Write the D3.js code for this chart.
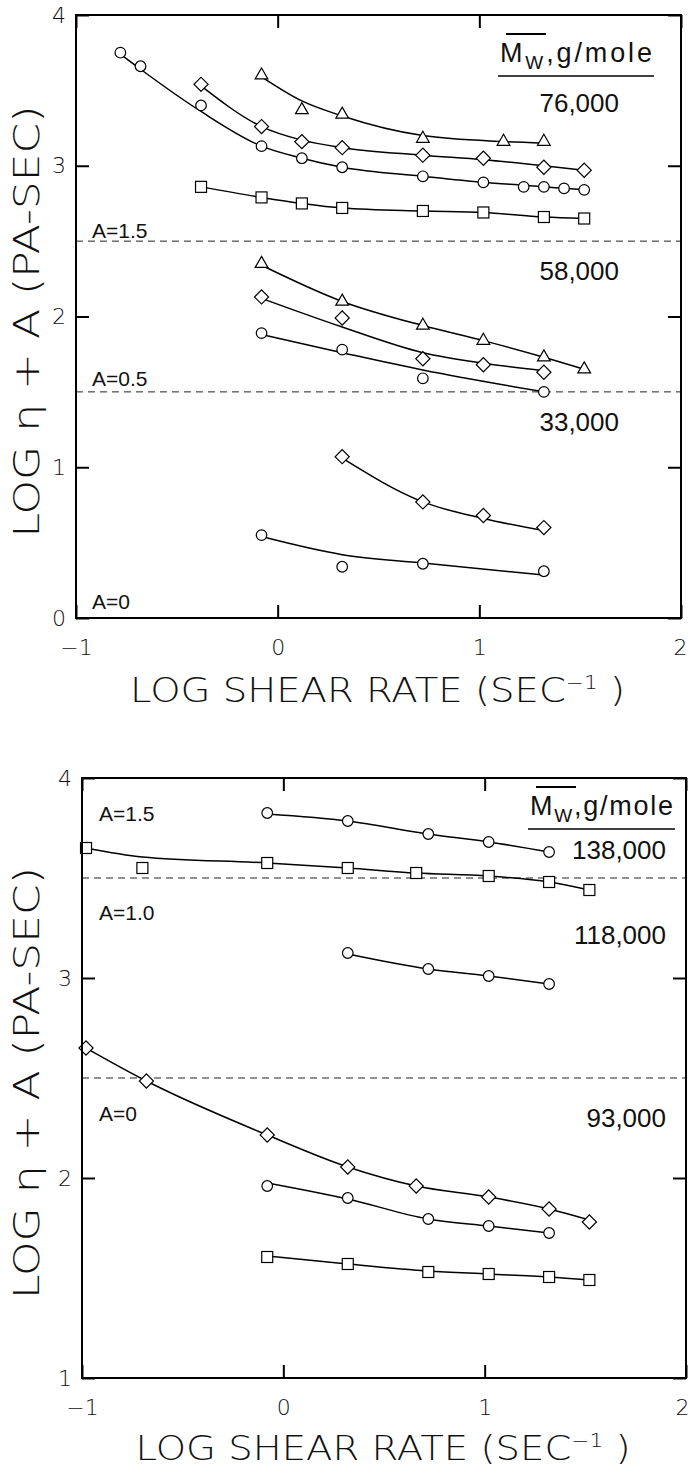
<!DOCTYPE html>
<html>
<head>
<meta charset="utf-8">
<script src="https://cdn.jsdelivr.net/npm/d3@7"></script>
<style>
  html, body { margin: 0; padding: 0; background: #fff; }
  svg { display: block; }
  .tick text { font-family: "DejaVu Sans", sans-serif; font-weight: 200; font-size: 22px; fill: #111; }
  .ttl { font-family: "DejaVu Sans", sans-serif; font-weight: 200; fill: #111; }
  .lbl { font-family: "Liberation Sans", Arial, sans-serif; fill: #111; }
</style>
</head>
<body>
<svg id="fig" width="689" height="1468"></svg>
<script>
// ---- tick values ----
const xTicks = [-1, 0, 1, 2];
const topYTicks = [0, 1, 2, 3, 4];
const botYTicks = [1, 2, 3, 4];

// Each series: measured points (X, Y) and the smoothed curve's value at the same X (F).

// ---- upper panel, Mw = 76,000 (shifted by A = 1.5) ----
const tri76X = [-0.08, 0.12, 0.32, 0.72, 1.12, 1.32];
const tri76Y = [3.60, 3.37, 3.34, 3.18, 3.16, 3.16];
const tri76F = [3.59, 3.43, 3.33, 3.20, 3.16, 3.15];
const dia76X = [-0.38, -0.08, 0.12, 0.32, 0.72, 1.02, 1.32, 1.52];
const dia76Y = [3.54, 3.26, 3.16, 3.12, 3.07, 3.05, 2.99, 2.97];
const dia76F = [3.53, 3.26, 3.17, 3.12, 3.07, 3.04, 3.00, 2.97];
const cir76X = [-0.78, -0.68, -0.38, -0.08, 0.12, 0.32, 0.72, 1.02, 1.22, 1.32, 1.42, 1.52];
const cir76Y = [3.75, 3.66, 3.40, 3.13, 3.05, 2.99, 2.93, 2.89, 2.86, 2.86, 2.85, 2.84];
const cir76F = [3.74, 3.64, 3.36, 3.13, 3.05, 2.99, 2.93, 2.89, 2.87, 2.86, 2.85, 2.84];
const sq76X  = [-0.38, -0.08, 0.12, 0.32, 0.72, 1.02, 1.32, 1.52];
const sq76Y  = [2.86, 2.79, 2.75, 2.72, 2.70, 2.69, 2.66, 2.65];
const sq76F  = [2.86, 2.79, 2.75, 2.72, 2.70, 2.69, 2.66, 2.65];

// ---- upper panel, Mw = 58,000 (A = 0.5) ----
const tri58X = [-0.08, 0.32, 0.72, 1.02, 1.32, 1.52];
const tri58Y = [2.35, 2.10, 1.94, 1.84, 1.73, 1.65];
const tri58F = [2.34, 2.10, 1.94, 1.84, 1.73, 1.65];
const dia58X = [-0.08, 0.32, 0.72, 1.02, 1.32];
const dia58Y = [2.13, 1.99, 1.72, 1.68, 1.63];
const dia58F = [2.12, 1.93, 1.76, 1.69, 1.64];
const cir58X = [-0.08, 0.32, 0.72, 1.32];
const cir58Y = [1.89, 1.78, 1.59, 1.50];
const cir58F = [1.88, 1.76, 1.645, 1.50];

// ---- upper panel, Mw = 33,000 (A = 0) ----
const dia33X = [0.32, 0.72, 1.02, 1.32];
const dia33Y = [1.07, 0.77, 0.68, 0.60];
const dia33F = [1.06, 0.77, 0.66, 0.58];
const cir33X = [-0.08, 0.32, 0.72, 1.32];
const cir33Y = [0.55, 0.34, 0.36, 0.31];
const cir33F = [0.54, 0.42, 0.365, 0.285];

// ---- lower panel, Mw = 138,000 (A = 1.5) ----
const cir138X = [-0.08, 0.32, 0.72, 1.02, 1.32];
const cir138Y = [3.825, 3.785, 3.72, 3.68, 3.63];
const cir138F = [3.82, 3.785, 3.72, 3.68, 3.63];
const sq138X  = [-0.98, -0.70, -0.08, 0.32, 0.66, 1.02, 1.32, 1.52];
const sq138Y  = [3.65, 3.55, 3.575, 3.55, 3.525, 3.51, 3.48, 3.44];
const sq138F  = [3.65, 3.605, 3.575, 3.55, 3.525, 3.51, 3.48, 3.44];

// ---- lower panel, Mw = 118,000 (A = 1.0) ----
const cir118X = [0.32, 0.72, 1.02, 1.32];
const cir118Y = [3.125, 3.045, 3.01, 2.97];
const cir118F = [3.12, 3.045, 3.01, 2.97];

// ---- lower panel, Mw = 93,000 (A = 0) ----
const dia93X = [-0.98, -0.68, -0.08, 0.32, 0.66, 1.02, 1.32, 1.52];
const dia93Y = [2.65, 2.485, 2.215, 2.055, 1.96, 1.905, 1.845, 1.78];
const dia93F = [2.65, 2.485, 2.215, 2.055, 1.96, 1.905, 1.845, 1.79];
const cir93X = [-0.08, 0.32, 0.72, 1.02, 1.32];
const cir93Y = [1.96, 1.90, 1.795, 1.76, 1.725];
const cir93F = [1.975, 1.895, 1.795, 1.76, 1.725];
const sq93X  = [-0.08, 0.32, 0.72, 1.02, 1.32, 1.52];
const sq93Y  = [1.605, 1.57, 1.53, 1.52, 1.505, 1.49];
const sq93F  = [1.61, 1.57, 1.535, 1.52, 1.505, 1.49];

// ---- shift reference lines and labels ----
const topGuides = [2.5, 1.5];
const botGuides = [3.5, 2.5];
const topShiftLabels = ["A=1.5", "A=0.5", "A=0"];
const botShiftLabels = ["A=1.5", "A=1.0", "A=0"];
const topMwLabels = ["76,000", "58,000", "33,000"];
const botMwLabels = ["138,000", "118,000", "93,000"];

const zip = (xs, ys) => xs.map((x, i) => ({ x, y: ys[i] }));

const svg = d3.select("#fig");

function drawPanel(cfg) {
  const g = svg.append("g");
  const sx = d3.scaleLinear().domain([-1, 2]).range([cfg.left, cfg.right]);
  const sy = d3.scaleLinear().domain(cfg.yDomain).range([cfg.bottom, cfg.top]);
  const fmt = d3.format("d");

  // dashed shift lines
  g.selectAll("line.guide").data(cfg.guides).join("line")
    .attr("x1", sx(-1)).attr("x2", sx(2))
    .attr("y1", d => sy(d)).attr("y2", d => sy(d))
    .attr("stroke", "#222").attr("stroke-width", 1)
    .attr("stroke-dasharray", "7,5");

  // smoothed curves
  const line = d3.line().x(d => sx(d.x)).y(d => sy(d.y)).curve(d3.curveMonotoneX);
  cfg.series.forEach(s => {
    g.append("path").attr("d", line(zip(s.x, s.f)))
      .attr("fill", "none").attr("stroke", "#000").attr("stroke-width", 1.5);
  });

  // markers
  const diamond = d3.symbol(d3.symbolSquare, 100)();
  const triangle = d3.symbol(d3.symbolTriangle, 70)();
  cfg.series.forEach(s => {
    const pts = zip(s.x, s.y);
    const m = g.append("g").attr("fill", "#fff").attr("stroke", "#000").attr("stroke-width", 1.2);
    pts.forEach(p => {
      const px = sx(p.x), py = sy(p.y);
      if (s.shape === "circle") {
        m.append("circle").attr("cx", px).attr("cy", py).attr("r", 5.3);
      } else if (s.shape === "square") {
        m.append("rect").attr("x", px - 5.5).attr("y", py - 5.5).attr("width", 11).attr("height", 11);
      } else if (s.shape === "diamond") {
        m.append("path").attr("d", diamond).attr("transform", `translate(${px},${py}) rotate(45)`);
      } else {
        m.append("path").attr("d", triangle).attr("transform", `translate(${px},${py})`);
      }
    });
  });

  // axes with inward ticks
  const ax = (a, sel) => { sel.call(a); sel.select(".domain").remove(); sel.selectAll(".tick line").attr("stroke", "#000").attr("stroke-width", 2); return sel; };
  const xb = ax(d3.axisBottom(sx).tickValues(xTicks).tickFormat(fmt).tickSizeInner(-13).tickSizeOuter(0).tickPadding(21),
     g.append("g").attr("transform", `translate(0,${cfg.bottom})`));
  // keep the last label inside the page
  xb.selectAll(".tick text").filter(d => d === 2).attr("text-anchor", "end").attr("dx", cfg.lastDx);
  ax(d3.axisTop(sx).tickValues(xTicks).tickFormat("").tickSizeInner(-13).tickSizeOuter(0),
     g.append("g").attr("transform", `translate(0,${cfg.top})`));
  ax(d3.axisLeft(sy).tickValues(cfg.yTicks).tickFormat(fmt).tickSizeInner(-13).tickSizeOuter(0).tickPadding(10),
     g.append("g").attr("transform", `translate(${cfg.left},0)`));
  ax(d3.axisRight(sy).tickValues(cfg.yTicks).tickFormat("").tickSizeInner(-13).tickSizeOuter(0),
     g.append("g").attr("transform", `translate(${cfg.right},0)`));
  g.selectAll(".tick text").attr("font-family", null).attr("font-size", null).attr("fill", null);

  // frame
  g.append("rect").attr("x", cfg.left).attr("y", cfg.top)
    .attr("width", cfg.right - cfg.left).attr("height", cfg.bottom - cfg.top)
    .attr("fill", "none").attr("stroke", "#000").attr("stroke-width", 2);

  // shift labels
  cfg.shiftLabels.forEach((t, i) => {
    g.append("text").attr("class", "lbl").attr("x", cfg.shiftPos[i][0]).attr("y", cfg.shiftPos[i][1])
      .attr("font-size", 21).text(t);
  });

  // molecular weight labels
  cfg.mwLabels.forEach((t, i) => {
    g.append("text").attr("class", "lbl").attr("x", cfg.mwPos[i][0]).attr("y", cfg.mwPos[i][1])
      .attr("text-anchor", "end").attr("font-size", 26).text(t);
  });

  // legend heading: Mw (overlined), g/mole, underlined
  const [lx, ly, lw] = cfg.legend;
  const lt = g.append("text").attr("class", "lbl").attr("x", lx).attr("y", ly)
    .attr("font-size", 27).attr("textLength", lw).attr("lengthAdjust", "spacing");
  lt.append("tspan").text("M");
  lt.append("tspan").attr("dy", 7).attr("font-size", 19).text("W");
  lt.append("tspan").attr("dy", -7).text(",g/mole");
  g.append("line").attr("x1", lx + 6).attr("x2", lx + 46).attr("y1", ly - 28).attr("y2", ly - 28)
    .attr("stroke", "#000").attr("stroke-width", 2);
  g.append("line").attr("x1", lx - 2).attr("x2", lx + lw + 2).attr("y1", ly + 14).attr("y2", ly + 14)
    .attr("stroke", "#000").attr("stroke-width", 1.5);

  // axis titles
  const xt = g.append("text").attr("class", "ttl").attr("x", (cfg.left + cfg.right) / 2 - 1).attr("y", cfg.xTitleY)
    .attr("text-anchor", "middle").attr("font-size", 34)
    .attr("textLength", 495).attr("lengthAdjust", "spacingAndGlyphs");
  xt.append("tspan").text("LOG SHEAR RATE (SEC");
  xt.append("tspan").attr("dy", -13).attr("font-size", 19).text("−1");
  xt.append("tspan").attr("dy", 13).text(" )");

  g.append("text").attr("class", "ttl")
    .attr("transform", `translate(39,${(cfg.top + cfg.bottom) / 2 + 5}) rotate(-90)`)
    .attr("text-anchor", "middle").attr("font-size", 35)
    .attr("textLength", 432).attr("lengthAdjust", "spacingAndGlyphs")
    .text("LOG η + A (PA-SEC)");
}

drawPanel({
  left: 76, right: 681, top: 15, bottom: 618,
  yDomain: [0, 4], yTicks: topYTicks, guides: topGuides, lastDx: 6,
  series: [
    { x: tri76X, y: tri76Y, f: tri76F, shape: "triangle" },
    { x: dia76X, y: dia76Y, f: dia76F, shape: "diamond" },
    { x: cir76X, y: cir76Y, f: cir76F, shape: "circle" },
    { x: sq76X,  y: sq76Y,  f: sq76F,  shape: "square" },
    { x: tri58X, y: tri58Y, f: tri58F, shape: "triangle" },
    { x: dia58X, y: dia58Y, f: dia58F, shape: "diamond" },
    { x: cir58X, y: cir58Y, f: cir58F, shape: "circle" },
    { x: dia33X, y: dia33Y, f: dia33F, shape: "diamond" },
    { x: cir33X, y: cir33Y, f: cir33F, shape: "circle" }
  ],
  shiftLabels: topShiftLabels, shiftPos: [[92, 238], [92, 386], [92, 609]],
  mwLabels: topMwLabels, mwPos: [[619, 112], [619, 280], [619, 431]],
  legend: [500, 62, 152],
  xTitleY: 702
});

drawPanel({
  left: 82, right: 686, top: 778, bottom: 1378,
  yDomain: [1, 4], yTicks: botYTicks, guides: botGuides, lastDx: 3,
  series: [
    { x: cir138X, y: cir138Y, f: cir138F, shape: "circle" },
    { x: sq138X,  y: sq138Y,  f: sq138F,  shape: "square" },
    { x: cir118X, y: cir118Y, f: cir118F, shape: "circle" },
    { x: dia93X,  y: dia93Y,  f: dia93F,  shape: "diamond" },
    { x: cir93X,  y: cir93Y,  f: cir93F,  shape: "circle" },
    { x: sq93X,   y: sq93Y,   f: sq93F,   shape: "square" }
  ],
  shiftLabels: botShiftLabels, shiftPos: [[99, 821], [99, 920], [99, 1121]],
  mwLabels: botMwLabels, mwPos: [[666, 859], [666, 944], [666, 1127]],
  legend: [530, 815, 143],
  xTitleY: 1460
});
</script>
</body>
</html>
